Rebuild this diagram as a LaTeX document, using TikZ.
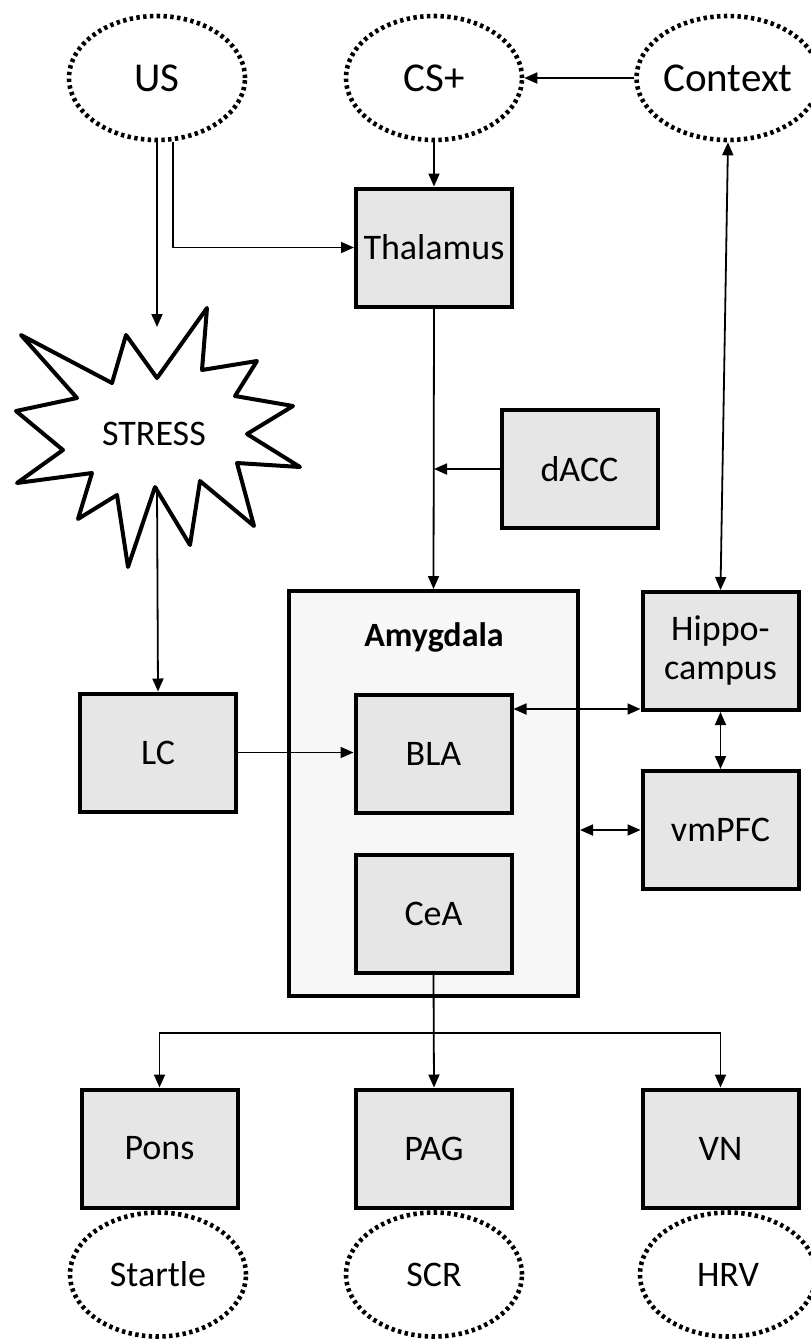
\documentclass[tikz,border=0pt]{standalone}
\usepackage{fontspec}
\setmainfont{Carlito}
\usetikzlibrary{arrows.meta,positioning,calc,shapes.geometric,shadows}
\definecolor{boxgray}{RGB}{230,230,230}
\definecolor{amygray}{RGB}{247,247,247}

\begin{document}
\begin{tikzpicture}[x=0.5pt,y=-0.5pt,
  region/.style={draw,line width=2pt,fill=boxgray,minimum width=78pt,minimum height=59pt,inner sep=0pt,
    align=center,font=\fontsize{18}{19.5}\selectfont,
    drop shadow={opacity=0.25,shadow xshift=1pt,shadow yshift=-1.2pt}},
  signal/.style={ellipse,draw,line width=2.3pt,dash pattern=on 1.7pt off 1.7pt,fill=white,
    minimum width=88pt,minimum height=62pt,inner sep=0pt,font=\fontsize{18}{19.5}\selectfont},
  bigsignal/.style={signal,font=\fontsize{20.5}{22}\selectfont},
  link/.style={line width=0.9pt,-{Triangle[length=6.5pt,width=5.5pt]}},
  dlink/.style={line width=0.9pt,{Triangle[length=6.5pt,width=5.5pt]}-{Triangle[length=6.5pt,width=5.5pt]}}]
  \useasboundingbox (0,0) rectangle (810,1340);

  % stimuli
  \node[bigsignal] (us) at (157,78) {US};
  \node[bigsignal] (csplus) at (434,78) {CS+};
  \node[bigsignal] (context) at (728,78) {Context};

  % stress burst
  \draw[line width=2pt,line join=round,fill=white]
    (207,308) -- (202,370) -- (257,361) -- (235,396) -- (293,406) -- (247,434) -- (300,467) -- (237,463)
    -- (254,526) -- (200,481) -- (190,545) -- (155,487) -- (128,567) -- (117,495) -- (78,519) -- (92,473)
    -- (17,483) -- (63,450) -- (16,411) -- (77,398) -- (21,335) -- (112,383) -- (126,335) -- (157,378) -- cycle;
  \node[font=\fontsize{18}{19.5}\selectfont] (stress) at (154,434) {STRESS};
  \coordinate (stresstop) at (157,327);
  \coordinate (stressbot) at (157,487);

  % regions
  \node[region] (thalamus) at (434,247.5) {Thalamus};
  \node[region] (dacc) at (579.5,469) {dACC};
  \node[region] (lc) at (158,752.5) {LC};
  \node[draw,line width=2pt,fill=amygray,minimum width=144.5pt,minimum height=202.5pt,inner sep=0pt,
    drop shadow={opacity=0.25,shadow xshift=1pt,shadow yshift=-1.2pt}] (amygdala) at (433.5,793.5) {};
  \node[font=\bfseries\fontsize{17}{20}\selectfont] (amytitle) at (434,637) {Amygdala};
  \node[region] (bla) at (433.5,753.5) {BLA};
  \node[region] (cea) at (433.5,914) {CeA};
  \node[region] (hippo) at (720.5,651) {Hippo-\\campus};
  \node[region] (vmpfc) at (720.5,830) {vmPFC};
  \node[region] (pons) at (159.5,1148.5) {Pons};
  \node[region] (pag) at (434,1148.5) {PAG};
  \node[region] (vn) at (720.5,1148.5) {VN};

  % responses
  \node[signal] (startle) at (158,1274.5) {Startle};
  \node[signal] (scr) at (434,1274.5) {SCR};
  \node[signal] (hrv) at (728,1274.5) {HRV};

  % connections
  \draw[link] (context.west) -- (csplus.east);
  \draw[link] (csplus.south) -- (thalamus.north);
  \draw[link] ($(us.south)+(16,0)$) |- (thalamus.west);
  \draw[link] (us.south) -- (stresstop);
  \draw[link] (stressbot) -- (lc.north);
  \draw[link] (lc.east) -- (lc.east -| bla.west);
  \draw[link] (thalamus.south) -- (amygdala.north);
  \draw[link] (dacc.west) -- (dacc.west -| thalamus.south);
  \draw[dlink] (context.south) -- (hippo.north);
  \coordinate (hbend) at ([yshift=1.5pt]hippo.south west);
  \draw[dlink] (hbend -| bla.east) -- (hbend);
  \draw[dlink] (hippo.south) -- (vmpfc.north);
  \draw[dlink] (vmpfc.west -| amygdala.east) -- (vmpfc.west);
  \coordinate (split) at (434,1033);
  \draw[link] (cea.south) -- (pag.north);
  \draw[link] (split) -| (pons.north);
  \draw[link] (split) -| (vn.north);
\end{tikzpicture}
\end{document}
